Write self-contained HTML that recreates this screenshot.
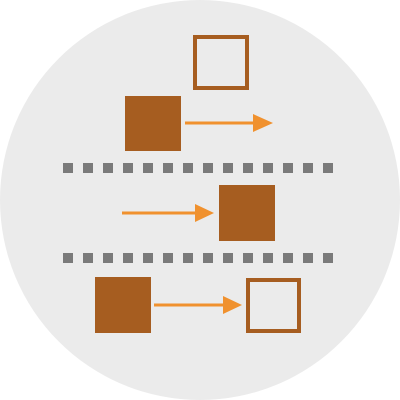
<!DOCTYPE html>
<html><head><meta charset="utf-8"><style>html,body{margin:0;padding:0;background:#fff}svg{display:block}</style></head>
<body>
<svg width="400" height="400" viewBox="0 0 400 400">
<circle cx="200" cy="200" r="200" fill="#ebebeb"/>
<rect x="195" y="37" width="52" height="51" fill="none" stroke="#a65d20" stroke-width="4"/>
<rect x="125" y="96" width="56" height="55" fill="#a65d20"/>
<g><line x1="185" y1="123" x2="256" y2="123" stroke="#f0912e" stroke-width="3"/><polygon points="253,114 273,123 253,132" fill="#f0912e"/></g>
<g id="d1"></g>
<rect x="219" y="185" width="56" height="56" fill="#a65d20"/>
<g><line x1="122" y1="213" x2="198" y2="213" stroke="#f0912e" stroke-width="3"/><polygon points="195,204 214,213 195,222" fill="#f0912e"/></g>
<g id="d2"></g>
<rect x="95" y="277" width="56" height="56" fill="#a65d20"/>
<g><line x1="154" y1="305" x2="226" y2="305" stroke="#f0912e" stroke-width="3"/><polygon points="223,296 242,305 223,314" fill="#f0912e"/></g>
<rect x="248" y="280" width="51" height="51" fill="none" stroke="#a65d20" stroke-width="4"/>
</svg>
<script>
const dividerRows=[168,258];
const dotCount=14;
const ns="http://www.w3.org/2000/svg";
dividerRows.forEach((y,k)=>{
  const g=document.getElementById(k?"d2":"d1");
  for(let i=0;i<dotCount;i++){
    const r=document.createElementNS(ns,"rect");
    r.setAttribute("x",63+i*20);r.setAttribute("y",y-5);
    r.setAttribute("width",10);r.setAttribute("height",10);r.setAttribute("fill","#7a7a7a");
    
    
    g.appendChild(r);
  }
});
</script>
</body></html>
